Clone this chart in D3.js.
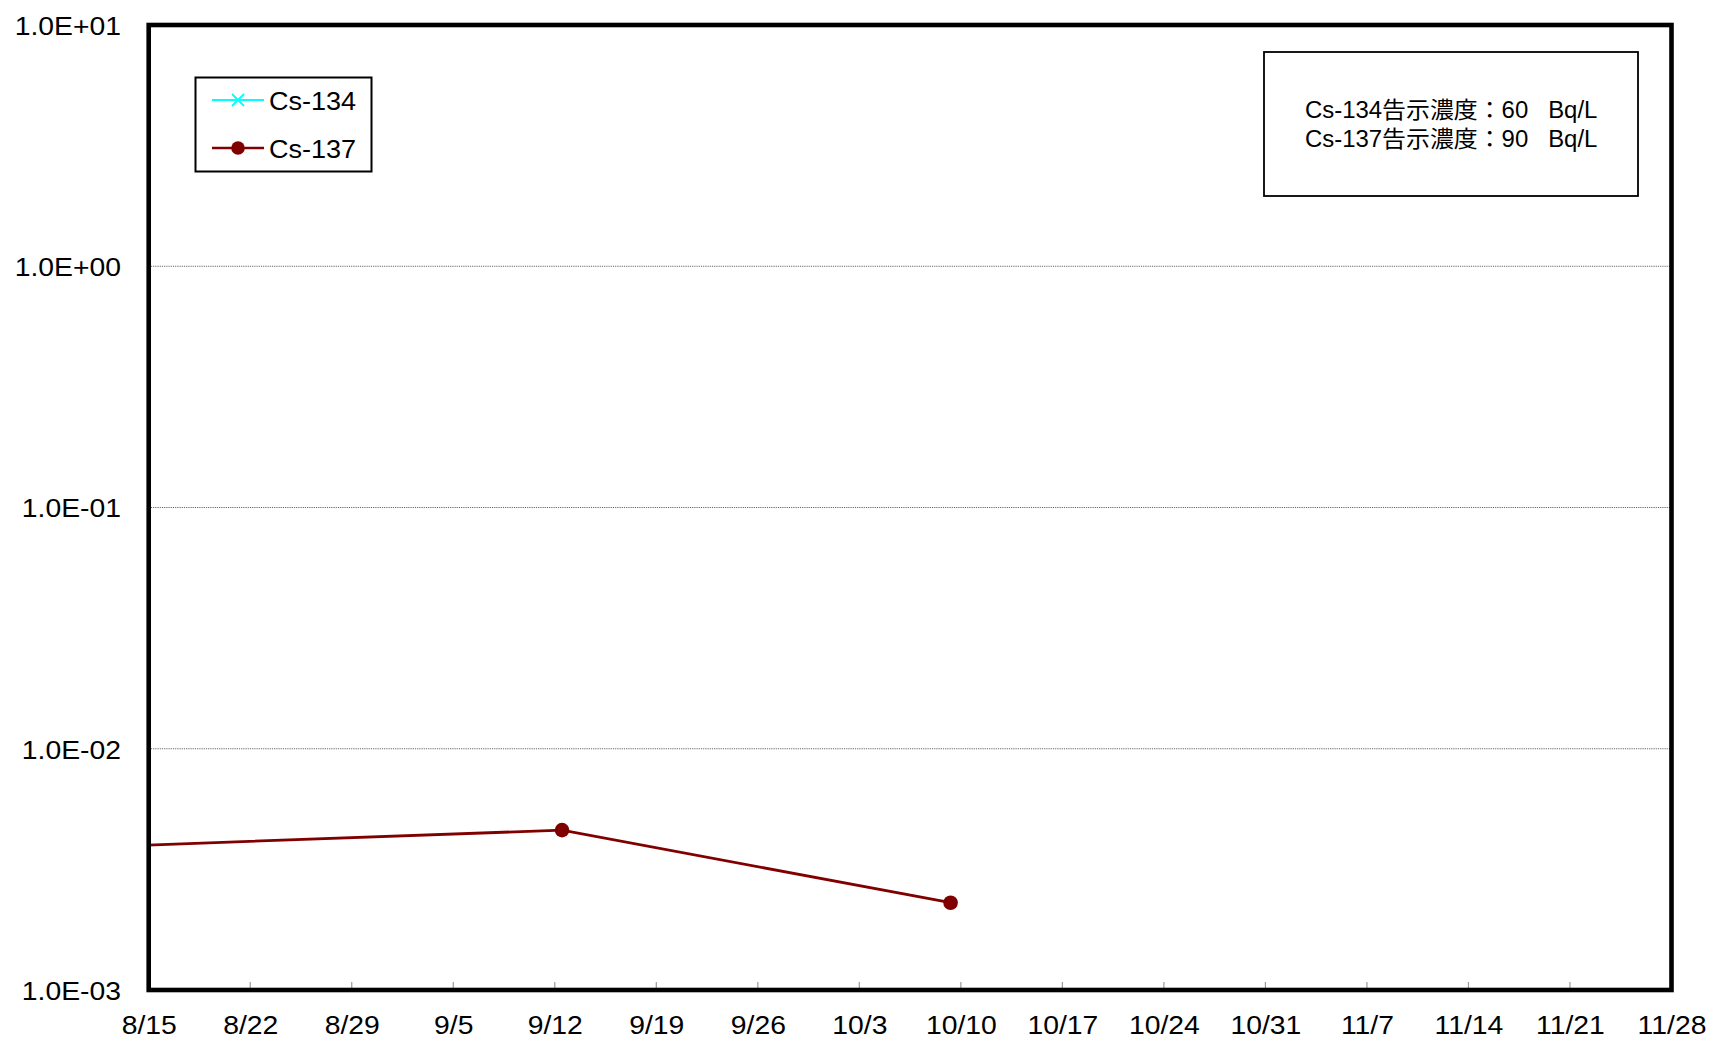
<!DOCTYPE html>
<html>
<head>
<meta charset="utf-8">
<script src="https://cdn.jsdelivr.net/npm/d3@7/dist/d3.min.js"></script>
<style>
  html, body { margin: 0; padding: 0; background: #fff; }
  svg { display: block; }
  text { font-family: "Liberation Sans", Arial, "Noto Sans CJK JP", sans-serif; fill: #000; }
</style>
</head>
<body>
<svg id="chart" width="1714" height="1042"></svg>
<script>
// ---- data ----
const seriesNames = ["Cs-134", "Cs-137"];
const seriesColors = ["#00FFFF", "#800000"];
// Cs-134: all below detection limit (no plotted values)
const cs134Dates = [];
const cs134Values = [];
// Cs-137 (Bq/L); first sample lies just before the axis start and is clipped
const cs137Dates = ["2011-08-14T00:00", "2011-09-12T12:00", "2011-10-09T07:00"];
const cs137Values = [0.00397, 0.0046, 0.0023];
const xStart = "2011-08-15", xEnd = "2011-11-28";
const xTickLabels = ["8/15","8/22","8/29","9/5","9/12","9/19","9/26","10/3","10/10","10/17","10/24","10/31","11/7","11/14","11/21","11/28"];
const yTicks = [1e-3, 1e-2, 1e-1, 1, 10];
const yTickLabels = ["1.0E-03", "1.0E-02", "1.0E-01", "1.0E+00", "1.0E+01"];
const noteLines = ["Cs-134告示濃度：60\u00a0\u00a0\u00a0Bq/L", "Cs-137告示濃度：90\u00a0\u00a0\u00a0Bq/L"];

// ---- layout ----
const svg = d3.select("#chart");
const L = 148.7, R = 1671.5, T = 25, B = 990;
const parse = d3.timeParse("%Y-%m-%dT%H:%M");
const parseDay = d3.timeParse("%Y-%m-%d");
const x = d3.scaleTime().domain([parseDay(xStart), parseDay(xEnd)]).range([L, R]);
const y = d3.scaleLog().domain([1e-3, 10]).range([B, T]);
const xTickDates = xTickLabels.map(s => { const [m, d] = s.split("/"); return new Date(2011, +m - 1, +d); });
const STRETCH = 1.09;

// gridlines
svg.append("g").selectAll("line").data(yTicks.slice(1, -1)).join("line")
  .attr("x1", L).attr("x2", R).attr("y1", d => y(d)).attr("y2", d => y(d))
  .attr("stroke", "#666").attr("stroke-width", 1).attr("stroke-dasharray", "1.2,1");

// x ticks (inside, grey)
svg.append("g").selectAll("line").data(xTickDates.slice(1, -1)).join("line")
  .attr("x1", d => x(d)).attr("x2", d => x(d)).attr("y1", B).attr("y2", B - 8)
  .attr("stroke", "#999").attr("stroke-width", 1.2);

// x labels
const xAxis = d3.axisBottom(x).tickValues(xTickDates).tickFormat((d, i) => xTickLabels[i]).tickSize(0).tickPadding(0);
const gx = svg.append("g").attr("transform", `translate(0,${B})`).call(xAxis);
gx.select(".domain").remove();
gx.selectAll("text").attr("dy", null).attr("y", 44).attr("transform", `scale(${STRETCH},1)`)
  .style("font-size", "26px").style("font-family", '"Liberation Sans", Arial, sans-serif');

// y labels
const yAxis = d3.axisLeft(y).tickValues(yTicks).tickFormat((d, i) => yTickLabels[i]).tickSize(0).tickPadding(0);
const gy = svg.append("g").attr("transform", `translate(121,0)`).call(yAxis);
gy.select(".domain").remove();
gy.selectAll("text").attr("dy", "0.36em").attr("x", 0).attr("transform", `scale(${STRETCH},1)`)
  .style("font-size", "26px").style("font-family", '"Liberation Sans", Arial, sans-serif');

// clip
svg.append("clipPath").attr("id", "plotclip").append("rect")
  .attr("x", L).attr("y", T).attr("width", R - L).attr("height", B - T);

// Cs-137 series
const cs137 = cs137Dates.map((d, i) => ({ date: parse(d), value: cs137Values[i] }));
const line = d3.line().x(d => x(d.date)).y(d => y(d.value));
const gData = svg.append("g").attr("clip-path", "url(#plotclip)");
gData.append("path").datum(cs137).attr("d", line)
  .attr("fill", "none").attr("stroke", seriesColors[1]).attr("stroke-width", 2.8);
gData.selectAll("circle").data(cs137).join("circle")
  .attr("cx", d => x(d.date)).attr("cy", d => y(d.value)).attr("r", 7.3)
  .attr("fill", seriesColors[1]);

// Cs-134 series (empty)
const cs134 = cs134Dates.map((d, i) => ({ date: parse(d), value: cs134Values[i] }));
gData.append("path").datum(cs134).attr("d", line)
  .attr("fill", "none").attr("stroke", seriesColors[0]).attr("stroke-width", 2);

// plot frame
svg.append("rect").attr("x", L).attr("y", T).attr("width", R - L).attr("height", B - T)
  .attr("fill", "none").attr("stroke", "#000").attr("stroke-width", 4.6);

// legend
const lg = svg.append("g");
lg.append("rect").attr("x", 195.5).attr("y", 77.5).attr("width", 176).attr("height", 94)
  .attr("fill", "#fff").attr("stroke", "#000").attr("stroke-width", 2);
const legendY = [100, 148];
seriesNames.forEach((name, i) => {
  const yy = legendY[i];
  lg.append("line").attr("x1", 212).attr("x2", 264).attr("y1", yy).attr("y2", yy)
    .attr("stroke", seriesColors[i]).attr("stroke-width", i === 0 ? 2 : 2.6);
  if (i === 0) {
    const s = 6;
    lg.append("path").attr("d", `M${238 - s},${yy - s}L${238 + s},${yy + s}M${238 - s},${yy + s}L${238 + s},${yy - s}`)
      .attr("stroke", seriesColors[0]).attr("stroke-width", 1.8).attr("fill", "none");
  } else {
    lg.append("circle").attr("cx", 238).attr("cy", yy).attr("r", 6.8).attr("fill", seriesColors[1]);
  }
  lg.append("text").attr("transform", `translate(269,${yy + 9.5}) scale(1.04,1)`)
    .style("font-size", "26px").text(name);
});

// note box
const nb = svg.append("g");
nb.append("rect").attr("x", 1264).attr("y", 52).attr("width", 374).attr("height", 144)
  .attr("fill", "#fff").attr("stroke", "#000").attr("stroke-width", 1.8);
noteLines.forEach((t, i) => {
  nb.append("text").attr("transform", `translate(1305,${118.3 + i * 28.5}) scale(1.04,1)`)
    .style("font-size", "23px")
    .style("font-family", '"Liberation Sans", Arial, "Noto Sans CJK JP", sans-serif')
    .text(t);
});
</script>
</body>
</html>
